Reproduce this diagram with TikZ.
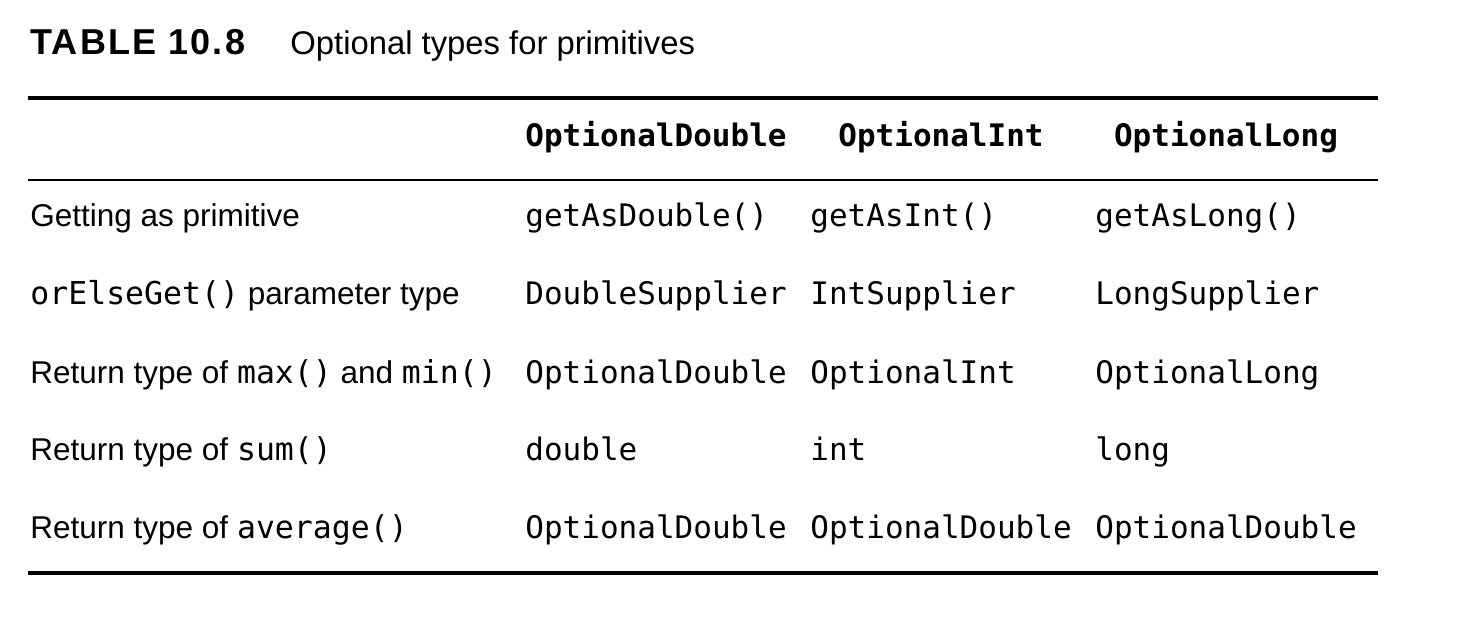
\documentclass[tikz,border=0pt]{standalone}
\usepackage{fontspec}
\setmainfont{Liberation Sans}
\setmonofont{DejaVu Sans Mono}
\newfontfamily\labelfont[LetterSpace=6]{Liberation Sans}
\begin{document}
\begin{tikzpicture}[x=0.5pt, y=-0.5pt,
                    lbl/.style = {anchor=base west,
                                  inner sep=0pt,
                                  font=\labelfont\bfseries\fontsize{18}{20}\selectfont},
                    caption/.style = {anchor=base west,
                                      inner sep=0pt,
                                      font=\fontsize{16.4}{20}\selectfont},
                    txt/.style = {anchor=base west,
                                  inner sep=0pt,
                                  font=\fontsize{15.75}{18}\selectfont},
                    code/.style = {anchor=base west,
                                   inner sep=0pt,
                                   font=\fontsize{15.5}{18}\selectfont\ttfamily},
                    head/.style = {anchor=base,
                                   inner sep=0pt,
                                   font=\fontsize{15.5}{18}\selectfont\ttfamily\bfseries},
                    heavyrule/.style = {line width=2pt},
                    lightrule/.style = {line width=1pt}]
		\useasboundingbox (0,0) rectangle (1476,630);
		% caption
		\node[lbl] (tab) at (30,55) {TABLE 10.8};
		\node[caption] (cap) at (290,55) {Optional types for primitives};
		% rules
		\coordinate (top-l) at (28,98);
		\coordinate (top-r) at (1378,98);
		\coordinate (mid-l) at (28,180);
		\coordinate (mid-r) at (1378,180);
		\coordinate (bot-l) at (28,573);
		\coordinate (bot-r) at (1378,573);
		\draw[heavyrule] (top-l) -- (top-r);
		\draw[lightrule] (mid-l) -- (mid-r);
		\draw[heavyrule] (bot-l) -- (bot-r);
		% header
		\node[head] (h-dbl) at (656,147) {OptionalDouble};
		\node[head] (h-int) at (941,147) {OptionalInt};
		\node[head] (h-lng) at (1226,147) {OptionalLong};
		% rows
		\node[txt] (r1) at (30,227) {Getting as primitive};
		\node[code] (r1-dbl) at (525,227) {getAsDouble()};
		\node[code] (r1-int) at (810,227) {getAsInt()};
		\node[code] (r1-lng) at (1095,227) {getAsLong()};
		\node[txt] (r2) at (30,305) {\texttt{orElseGet()} parameter type};
		\node[code] (r2-dbl) at (525,305) {DoubleSupplier};
		\node[code] (r2-int) at (810,305) {IntSupplier};
		\node[code] (r2-lng) at (1095,305) {LongSupplier};
		\node[txt] (r3) at (30,383) {Return type of \texttt{max()} and \texttt{min()}};
		\node[code] (r3-dbl) at (525,383) {OptionalDouble};
		\node[code] (r3-int) at (810,383) {OptionalInt};
		\node[code] (r3-lng) at (1095,383) {OptionalLong};
		\node[txt] (r4) at (30,460) {Return type of \texttt{sum()}};
		\node[code] (r4-dbl) at (525,460) {double};
		\node[code] (r4-int) at (810,460) {int};
		\node[code] (r4-lng) at (1095,460) {long};
		\node[txt] (r5) at (30,538) {Return type of \texttt{average()}};
		\node[code] (r5-dbl) at (525,538) {OptionalDouble};
		\node[code] (r5-int) at (810,538) {OptionalDouble};
		\node[code] (r5-lng) at (1095,538) {OptionalDouble};
	\end{tikzpicture}
\end{document}
